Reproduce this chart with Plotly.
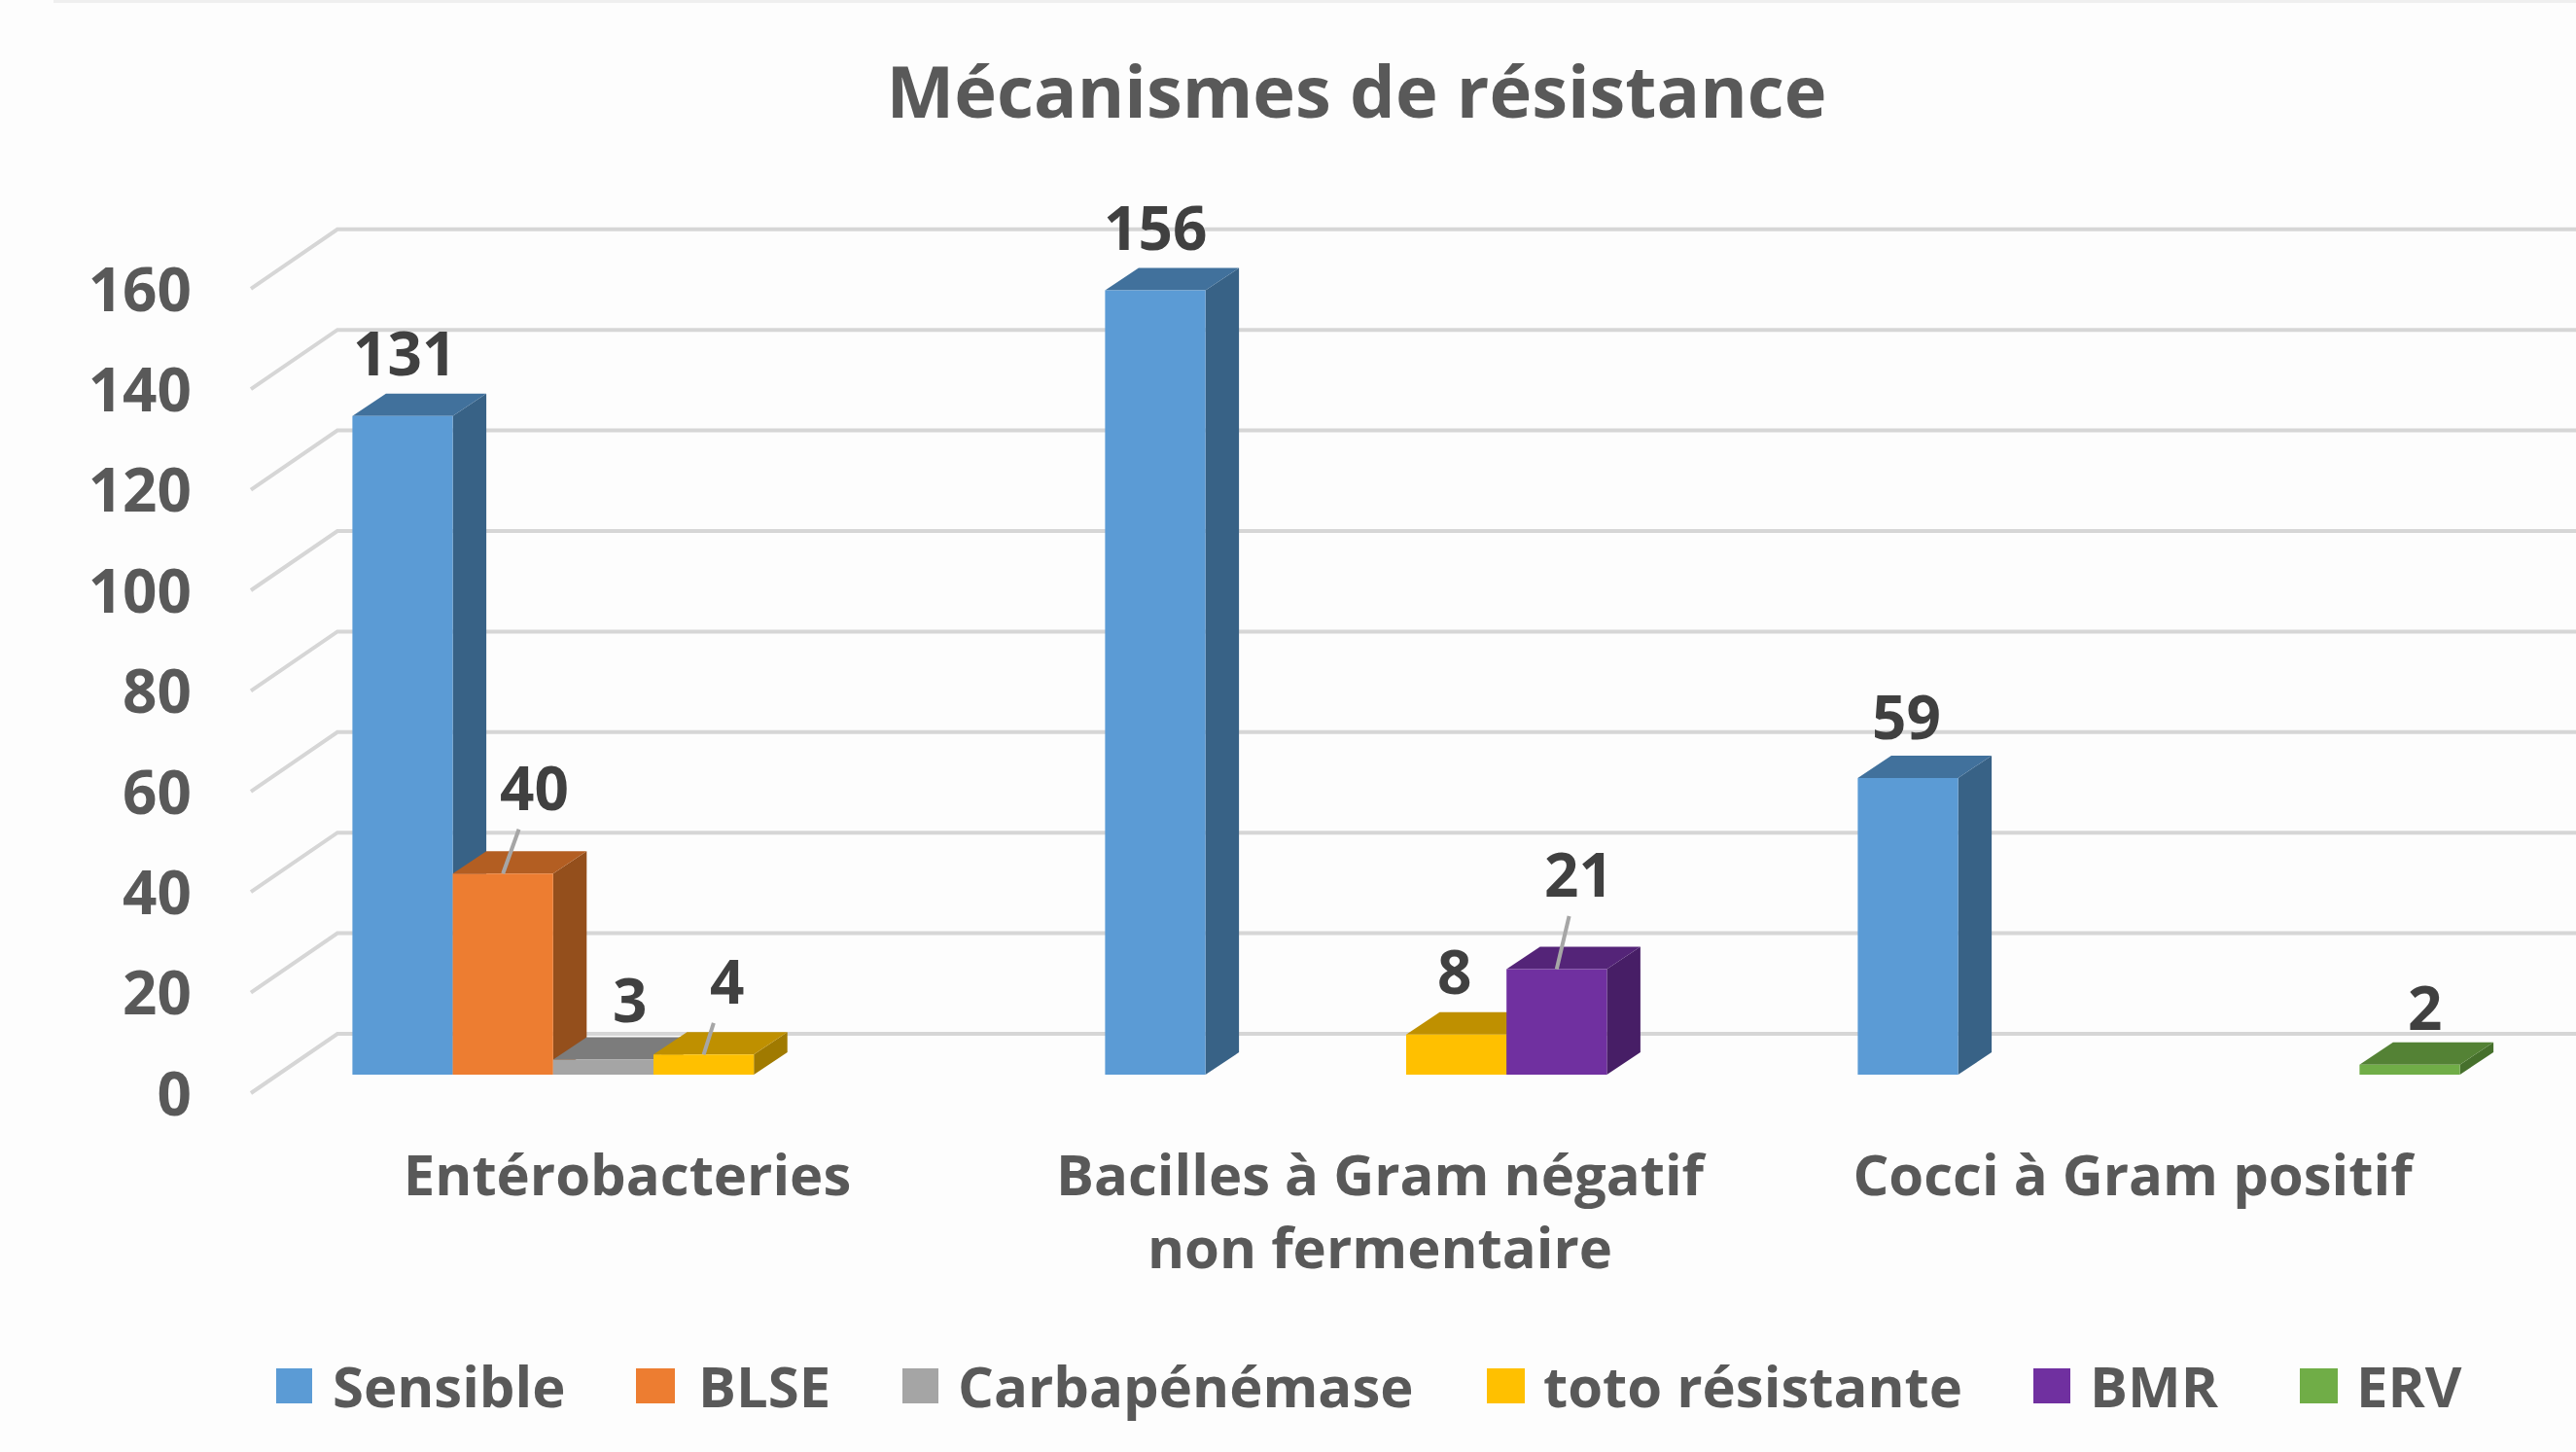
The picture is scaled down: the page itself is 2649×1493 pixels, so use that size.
import plotly.graph_objects as go

categories = ["Entérobacteries", "Bacilles à Gram négatif<br>non fermentaire", "Cocci à Gram positif"]
series_names = ["Sensible", "BLSE", "Carbapénémase", "toto résistante", "BMR", "ERV"]
sensible = [131, 156, 59]
blse = [40, None, None]
carbapenemase = [3, None, None]
toto_resistante = [4, 8, None]
bmr = [None, 21, None]
erv = [None, None, 2]
y_ticks = [0, 20, 40, 60, 80, 100, 120, 140, 160]
title_text = "Mécanismes de résistance"

series_values = [sensible, blse, carbapenemase, toto_resistante, bmr, erv]
front_colors = ["#5B9BD5", "#ED7D31", "#A5A5A5", "#FFC000", "#7030A0", "#70AD47"]
top_colors = ["#41719C", "#B35E22", "#7C7C7C", "#BF9000", "#542478", "#548235"]
side_colors = ["#386286", "#944F1C", "#696969", "#A07A00", "#471E66", "#46702C"]

W, H = 2649, 1493
PX_PER_UNIT = 5.17
PX_PER_CAT = 774.0
BAR_ORIGIN_X = 672.0
BAR_ORIGIN_Y = 1105.0
LABEL_ORIGIN_X = 645.0
LABEL_ORIGIN_Y = 1125.0
DEPTH_X = 34.5 / PX_PER_CAT
DEPTH_Y = 23.0 / PX_PER_UNIT
BAR_GAP = 0.2
BAR_W = (1 - BAR_GAP) / len(series_names)
GRID_FRONT_X = (258 - BAR_ORIGIN_X) / PX_PER_CAT
GRID_BACK_X = (347 - BAR_ORIGIN_X) / PX_PER_CAT
GRID_FRONT_DY = -19.0 / PX_PER_UNIT
GRID_BACK_DY = 42.0 / PX_PER_UNIT

x_range = [(0 - BAR_ORIGIN_X) / PX_PER_CAT, (W - BAR_ORIGIN_X) / PX_PER_CAT]
y_range = [(BAR_ORIGIN_Y - H) / PX_PER_UNIT, BAR_ORIGIN_Y / PX_PER_UNIT]
x2_range = [(0 - LABEL_ORIGIN_X) / PX_PER_CAT, (W - LABEL_ORIGIN_X) / PX_PER_CAT]
y2_range = [(LABEL_ORIGIN_Y - H) / PX_PER_UNIT, LABEL_ORIGIN_Y / PX_PER_UNIT]

fig = go.Figure()

# back wall and floor gridlines
gx, gy = [], []
for v in y_ticks:
    gx += [GRID_FRONT_X, GRID_BACK_X, x_range[1], None]
    gy += [v + GRID_FRONT_DY, v + GRID_BACK_DY, v + GRID_BACK_DY, None]
fig.add_trace(go.Scatter(x=gx, y=gy, mode="lines", line=dict(color="#D6D6D6", width=4),
                         xaxis="x3", yaxis="y", showlegend=False, hoverinfo="skip"))

# depth faces, computed from values
for s, vals in enumerate(series_values):
    sx, sy, tx, ty = [], [], [], []
    for c, v in enumerate(vals):
        if v is None:
            continue
        left = c - (1 - BAR_GAP) / 2 + s * BAR_W
        right = left + BAR_W
        sx += [right, right + DEPTH_X, right + DEPTH_X, right, right, None]
        sy += [0, DEPTH_Y, v + DEPTH_Y, v, 0, None]
        tx += [left, right, right + DEPTH_X, left + DEPTH_X, left, None]
        ty += [v, v, v + DEPTH_Y, v + DEPTH_Y, v, None]
    for xs, ys, col in ((sx, sy, side_colors[s]), (tx, ty, top_colors[s])):
        fig.add_trace(go.Scatter(x=xs, y=ys, mode="lines", fill="toself", fillcolor=col,
                                 line=dict(width=0, color=col), xaxis="x3", yaxis="y",
                                 showlegend=False, hoverinfo="skip"))

# front faces
for s, vals in enumerate(series_values):
    fig.add_trace(go.Bar(x=categories, y=vals, name=series_names[s], offsetgroup=str(s),
                         marker=dict(color=front_colors[s], line=dict(width=0)),
                         xaxis="x", yaxis="y", showlegend=False))

# invisible carrier for the labelled axes
fig.add_trace(go.Scatter(x=categories, y=[0, 0, 0], mode="markers", marker=dict(opacity=0),
                         xaxis="x2", yaxis="y2", showlegend=False, hoverinfo="skip"))

# data labels: (dx, dy, leader line)
label_offsets = {
    (0, 0): (2, -66, False), (1, 0): (32, -89, True), (2, 0): (27, -62, False),
    (3, 0): (24, -76, True), (0, 1): (0, -65, False), (3, 1): (-2, -66, False),
    (4, 1): (23, -98, True), (0, 2): (-2, -64, False), (5, 2): (15, -60, False),
}
annotations = []
for s, vals in enumerate(series_values):
    for c, v in enumerate(vals):
        if v is None:
            continue
        dx, dy, leader = label_offsets[(s, c)]
        cx = c - (1 - BAR_GAP) / 2 + (s + 0.5) * BAR_W
        common = dict(x=cx, y=v, xref="x3", yref="y", text=str(v), align="center",
                      font=dict(family="Open Sans", size=62, color="#404040", weight=700))
        if leader:
            annotations.append(dict(showarrow=True, ax=dx, ay=dy, axref="pixel", ayref="pixel",
                                    arrowhead=0, arrowwidth=4, arrowcolor="#A6A6A6", **common))
        else:
            annotations.append(dict(showarrow=False, xshift=dx, yshift=-dy, **common))

# legend
legend_y = 1424
legend_swatch = [(284, 321), (654, 694), (928, 965), (1529, 1568), (2091, 2129), (2365, 2404)]
legend_text_x = [340, 716, 983, 1585, 2147, 2421]
shapes = [dict(type="line", xref="paper", yref="paper", x0=55 / W, x1=1, y0=1 - 1.5 / H, y1=1 - 1.5 / H,
               line=dict(color="#EFEFEF", width=3))]
for s, name in enumerate(series_names):
    shapes.append(dict(type="rect", xref="paper", yref="paper", line=dict(width=0),
                       x0=legend_swatch[s][0] / W, x1=legend_swatch[s][1] / W,
                       y0=1 - (legend_y + 19) / H, y1=1 - (legend_y - 17) / H,
                       fillcolor=front_colors[s]))
    annotations.append(dict(x=legend_text_x[s] / W, y=1 - legend_y / H, xref="paper", yref="paper",
                            text=name, showarrow=False, xanchor="left", yanchor="middle",
                            font=dict(family="Open Sans", size=58, color="#595959", weight=700)))

hidden = dict(visible=False, showgrid=False, zeroline=False, fixedrange=True)
fig.update_layout(
    width=W, height=H, margin=dict(l=0, r=0, t=0, b=0), autosize=False,
    paper_bgcolor="#FDFDFD", plot_bgcolor="rgba(0,0,0,0)",
    barmode="group", bargap=BAR_GAP, bargroupgap=0,
    title=dict(text=title_text, x=1395 / W, y=1 - 95 / H, xanchor="center", yanchor="middle",
               font=dict(family="Open Sans", size=74, color="#595959", weight=700)),
    showlegend=False, shapes=shapes, annotations=annotations,
    xaxis3=dict(type="linear", domain=[0, 1], range=x_range, anchor="y", **hidden),
    xaxis=dict(type="category", categoryorder="array", categoryarray=categories,
               range=x_range, overlaying="x3", anchor="y", **hidden),
    yaxis=dict(domain=[0, 1], range=y_range, anchor="x3", **hidden),
    xaxis2=dict(type="category", categoryorder="array", categoryarray=categories,
                tickmode="array", tickvals=categories, ticktext=categories,
                range=x2_range, overlaying="x3", anchor="free", position=1 - 1170 / H,
                showgrid=False, zeroline=False, showline=False, ticks="", side="bottom",
                tickfont=dict(family="Open Sans", size=58, color="#595959", weight=700)),
    yaxis2=dict(tickmode="array", tickvals=y_ticks, range=y2_range, overlaying="y",
                anchor="free", position=197 / W, side="left",
                showgrid=False, zeroline=False, showline=False, ticks="",
                tickfont=dict(family="Open Sans", size=62, color="#595959", weight=700)),
)

fig.write_html("out.html", config=dict(displayModeBar=False),
               post_script="document.body.style.margin='0';document.body.style.background='#FDFDFD';")
